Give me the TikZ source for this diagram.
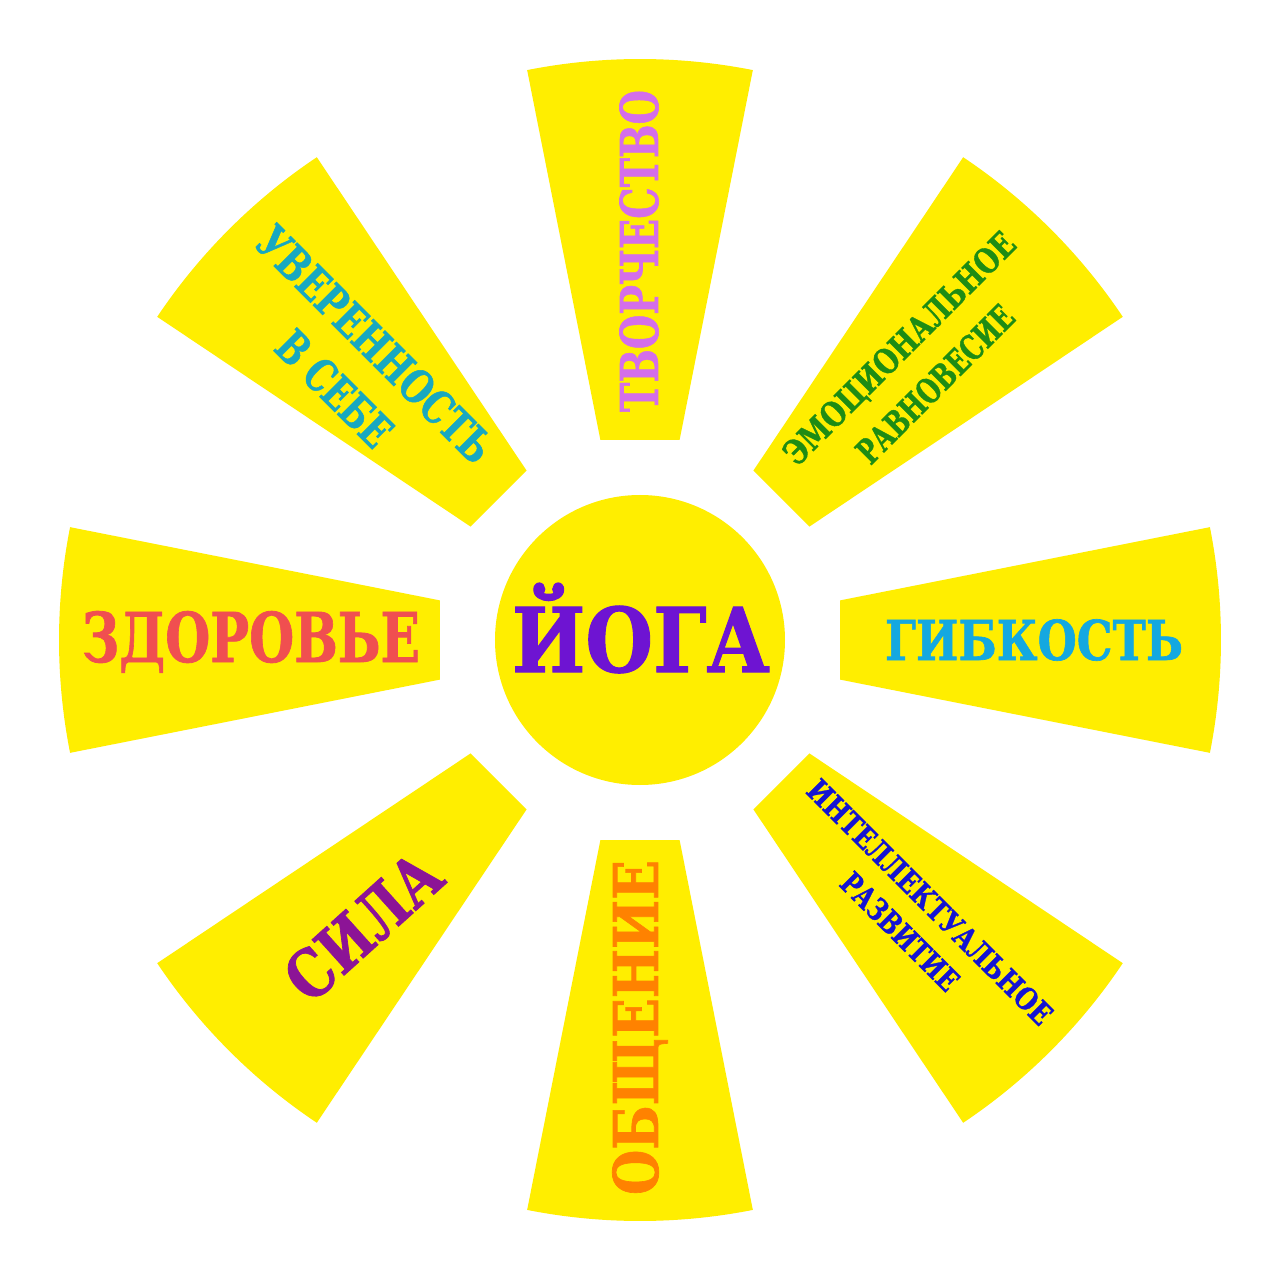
\documentclass[tikz,border=0pt]{standalone}
\usepackage{fontspec}
\setmainfont{DejaVu Serif}
\newfontfamily\heavy{DejaVu Serif}[UprightFont=* Bold, FakeBold=1.2]
\usepackage{graphicx}
\definecolor{sun}{HTML}{FFEE00}
\definecolor{cTvor}{HTML}{D46EEA}
\definecolor{cEmo}{HTML}{1E8C14}
\definecolor{cGib}{HTML}{14A8E0}
\definecolor{cInt}{HTML}{1414D2}
\definecolor{cObs}{HTML}{FF8200}
\definecolor{cSila}{HTML}{8C1496}
\definecolor{cZdor}{HTML}{F04F50}
\definecolor{cUver}{HTML}{18A8C0}
\definecolor{cYoga}{HTML}{6E14D2}
\newcommand{\lab}[3]{\resizebox{#1pt}{\height}{\fontsize{#2pt}{#2pt}\selectfont\heavy #3}}
\tikzset{
  lbl/.style={inner sep=0pt, text depth=0pt, text height=#1pt, anchor=center},
  ray/.style={fill=sun, draw=none}
}
\begin{document}
\begin{tikzpicture}[x=1pt,y=1pt]
\useasboundingbox (-640pt,-640pt) rectangle (640pt,640pt);
\fill[white] (-640pt,-640pt) rectangle (640pt,640pt);
\foreach \a in {90,45,0,-45,-90,-135,180,135}{
  \path[ray] (\a-11.2:204pt) -- (\a-11.2:581pt) arc[start angle=\a-11.2, end angle=\a+11.2, radius=581pt] -- (\a+11.2:204pt) -- cycle;
}
\node[circle, fill=sun, minimum size=290pt, inner sep=0pt] (core) at (0,0) {};
\node[lbl=65, text=cYoga] (yoga) at (1,0.5) {\lab{258}{89.2}{ЙОГА}};
\node[lbl=38, text=cTvor, rotate=90] (tvor) at (-1,389) {\lab{322}{52.1}{ТВОРЧЕСТВО}};
\node[lbl=25, text=cEmo, rotate=45] (emoA) at (259,292) {\lab{312}{34.3}{ЭМОЦИОНАЛЬНОЕ}};
\node[lbl=25, text=cEmo, rotate=45] (emoB) at (295,256) {\lab{207}{34.3}{РАВНОВЕСИЕ}};
\node[lbl=40, text=cGib] (gib) at (394,0) {\lab{298}{54.9}{ГИБКОСТЬ}};
\node[lbl=22, text=cInt, rotate=-45] (intA) at (290,-262) {\lab{332}{30.2}{ИНТЕЛЛЕКТУАЛЬНОЕ}};
\node[lbl=22, text=cInt, rotate=-45] (intB) at (260,-291.5) {\lab{153}{30.2}{РАЗВИТИЕ}};
\node[lbl=45, text=cObs, rotate=90] (obs) at (-4.5,-387.5) {\lab{335}{61.7}{ОБЩЕНИЕ}};
\node[lbl=48, text=cSila, rotate=42] (sila) at (-277,-286) {\lab{185}{65.8}{СИЛА}};
\node[lbl=50, text=cZdor] (zdor) at (-389,3) {\lab{338}{68.6}{ЗДОРОВЬЕ}};
\node[lbl=33, text=cUver, rotate=-45] (uverA) at (-265,296) {\lab{313}{45.3}{УВЕРЕННОСТЬ}};
\node[lbl=33, text=cUver, rotate=-45] (uverB) at (-305.5,251.5) {\lab{143}{45.3}{В СЕБЕ}};
\end{tikzpicture}
\end{document}
